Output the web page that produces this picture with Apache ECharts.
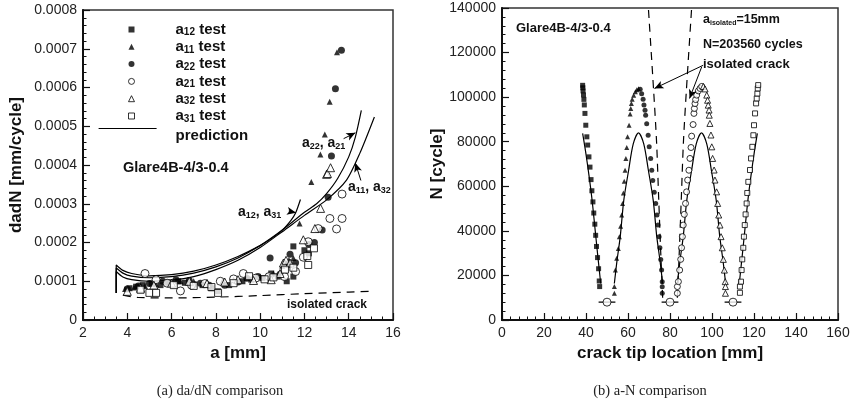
<!DOCTYPE html>
<html><head><meta charset="utf-8">
<script src="https://cdn.jsdelivr.net/npm/echarts@6.0.0/dist/echarts.min.js"></script>
<style>html,body{margin:0;padding:0;background:#fff}#c{width:853px;height:411px}</style>
</head><body><div id="c"></div>
<script>
// ================= DATA =================
// Left panel: da/dN vs a
const leftXTicks = [2, 4, 6, 8, 10, 12, 14, 16];
const leftYTicks = [0, 0.0001, 0.0002, 0.0003, 0.0004, 0.0005, 0.0006, 0.0007, 0.0008];
const legendNames = ['a12 test', 'a11 test', 'a22 test', 'a21 test', 'a32 test', 'a31 test'];
const legendSubs = ['12', '11', '22', '21', '32', '31'];

const dadN_a12 = [[4.1,0.000082],[4.4,0.000086],[4.7,0.00009],[5.1,0.000094],[5.5,0.00009],[5.9,0.000097],[6.3,0.0001],[6.6,0.000096],[7.0,0.000092],[7.4,0.00009],[7.8,0.000082],[8.1,0.000074],[8.6,0.00009],[9.2,0.0001],[9.6,0.000104],[10.1,0.000108],[10.5,0.00012],[10.8,0.000112],[11.2,0.0001],[11.5,0.000112],[11.3,0.000143],[11.5,0.00019],[12.0,0.00018],[12.2,0.000172]];
const dadN_a11 = [[3.9,0.00008],[4.3,0.000084],[4.8,0.000088],[5.3,0.000092],[5.8,0.000096],[6.4,0.0001],[7.0,0.0001],[7.6,0.000098],[8.3,0.0001],[8.8,0.000104],[9.4,0.00011],[10.0,0.000112],[10.6,0.00012],[11.0,0.00014],[11.3,0.000155],[11.5,0.00016],[11.78,0.000249],[12.31,0.000356],[12.72,0.000427],[12.92,0.000479],[13.14,0.000563],[13.47,0.000691]];
const dadN_a22 = [[4.0,0.00008],[4.5,0.000088],[5.0,0.000094],[5.6,0.0001],[6.2,0.000104],[6.8,0.000102],[7.3,0.000095],[7.7,0.00009],[8.4,0.00009],[9.0,0.000098],[9.4,0.000108],[9.9,0.000112],[10.45,0.00016],[10.9,0.000118],[11.1,0.000145],[11.35,0.00017],[11.6,0.000148],[12.2,0.000195],[12.45,0.0002],[12.8,0.000232],[13.07,0.000317],[13.22,0.000423],[13.4,0.000597],[13.67,0.000696]];
const dadN_a21 = [[4.8,0.00012],[5.3,0.000104],[5.8,0.000095],[6.4,0.000075],[6.9,0.00009],[7.5,0.000094],[8.2,0.0001],[8.8,0.000106],[9.24,0.00012],[9.8,0.000108],[10.4,0.000112],[11.1,0.000112],[11.6,0.000125],[11.95,0.000162],[12.17,0.000202],[12.62,0.000236],[13.15,0.000262],[13.45,0.000235],[13.7,0.000262],[13.7,0.000325]];
const dadN_a32 = [[4.0,0.000074],[4.6,0.000082],[5.2,0.00009],[6.0,0.000095],[6.8,0.0001],[7.6,0.000094],[8.4,0.000098],[9.0,0.000104],[9.7,0.000102],[10.5,0.000104],[10.9,0.00012],[11.05,0.000147],[11.17,0.000154],[11.35,0.000147],[11.95,0.000207],[12.47,0.000236],[12.73,0.000288],[13.0,0.000376],[13.04,0.000378],[13.18,0.000393]];
const dadN_a31 = [[4.6,0.000078],[5.0,0.00007],[5.3,0.00007],[6.1,0.00009],[7.0,0.000088],[7.8,0.000085],[8.1,0.00007],[8.8,0.000095],[9.5,0.000113],[10.2,0.000105],[10.6,0.00011],[11.12,0.00013],[11.5,0.000135],[12.13,0.000165],[12.17,0.000142],[12.43,0.000185]];

const pred_a12_a31 = [[3.5,0.00007],[3.5,0.000142],[3.8,0.000128],[4.2,0.00012],[5,0.000114],[6,0.000117],[7,0.000126],[8,0.000142],[9,0.000164],[10,0.000192],[10.5,0.00021],[11,0.000232],[11.4,0.000258],[11.6,0.000276],[11.82,0.000311]];
const pred_a22_a21 = [[3.5,0.00007],[3.5,0.000134],[3.8,0.000121],[4.2,0.000113],[5,0.000109],[6,0.000112],[7,0.000121],[8,0.000137],[9,0.00016],[10,0.000192],[11,0.000232],[12,0.000278],[12.55,0.0003],[13,0.000326],[13.5,0.000365],[14,0.000421],[14.3,0.000472],[14.57,0.000541]];
const pred_a11_a32 = [[3.5,0.00007],[3.5,0.000125],[3.8,0.000111],[4.2,0.000104],[5,0.0001],[6,0.000103],[7,0.000112],[8,0.00013],[9,0.000154],[10,0.000187],[11,0.000228],[12,0.00027],[13,0.00031],[13.9,0.000361],[14.5,0.00043],[15.16,0.000524]];
const isolated_dadN = [[3.8,0.000064],[4.5,0.000058],[6,0.000057],[8,0.000059],[10,0.000063],[12,0.000068],[14,0.000072],[15,0.000074]];

// Right panel: N vs crack tip location
const rightXTicks = [0, 20, 40, 60, 80, 100, 120, 140, 160];
const rightYTicks = [0, 20000, 40000, 60000, 80000, 100000, 120000, 140000];

const N_a12 = [[46.5,15000],[46.3,17500],[46.0,23000],[45.5,28000],[45.0,33000],[44.6,38000],[44.2,43000],[43.7,48000],[43.3,53000],[42.8,58000],[42.4,63000],[41.9,68600],[41.4,73200],[40.8,78500],[40.4,82200],[39.9,87400],[39.5,92700],[39.2,96500],[39.0,99000],[38.8,101000],[38.6,102800],[38.5,104200],[38.4,105300]];
const N_a11 = [[53.5,12000],[53.5,15000],[54.0,22400],[54.6,27700],[55.4,32100],[55.9,37400],[56.5,42100],[57.0,47100],[57.4,52300],[57.8,57000],[58.2,62300],[58.6,67200],[59.0,72500],[59.4,77400],[59.8,82200],[60.5,87400],[61.0,92400],[61.3,94900],[61.6,97100],[62.0,99100],[62.7,100900],[63.5,102400],[64.2,103300],[65.0,103800]];
const N_a22 = [[65.8,103500],[66.5,101500],[67.2,99000],[67.6,96500],[68.1,94100],[68.4,91900],[68.9,88100],[69.6,82900],[70.1,77700],[70.8,72500],[71.3,67200],[71.8,62600],[72.5,57300],[73.2,52300],[73.8,47100],[74.3,42600],[74.8,37400],[75.2,32400],[75.6,27200],[76.0,22400],[76.3,17200],[76.3,14900],[76.3,12000]];
const N_a21 = [[83.5,12000],[83.5,15000],[84.0,17200],[84.6,22400],[85.1,27200],[85.5,32400],[85.9,37400],[86.3,42600],[86.8,47400],[87.4,52300],[87.9,57500],[88.4,62800],[89.0,67200],[89.5,72500],[90.0,77400],[90.3,82500],[91.0,87700],[91.4,92700],[91.6,94900],[91.9,97100],[92.2,98900],[92.7,100900],[93.5,102800],[94.3,103900],[95.1,104800]];
const N_a32 = [[95.9,104800],[96.7,103700],[97.5,100900],[97.9,98600],[98.2,96400],[98.6,94200],[98.7,91900],[99.0,88200],[99.5,83000],[99.9,77700],[100.3,72500],[101.0,67300],[101.4,62800],[102.2,57500],[102.7,52300],[103.2,47100],[103.8,42600],[104.3,37400],[104.9,32400],[105.4,27200],[105.9,22400],[106.3,17200],[106.4,15000],[106.4,12000]];
const N_a31 = [[113.3,12200],[113.3,15000],[113.8,17200],[114.1,22400],[114.4,27200],[114.9,32400],[115.2,37400],[115.6,42600],[116.0,47400],[116.5,52300],[116.8,57000],[117.3,62000],[118.1,67300],[118.6,72500],[119.2,77700],[119.7,82900],[120.0,87400],[120.5,92700],[121.0,97200],[121.3,99400],[121.6,101600],[121.8,103900],[122.0,105400]];

const predN_left = [[47.0,16400],[45.7,28000],[44.4,40000],[42.9,53800],[41.4,65000],[39.9,75000],[38.4,83700]];
const predN_arch1 = [[53.5,16400],[54.8,26900],[56.3,37400],[58.0,53800],[60.3,67200],[62.5,79000],[65.0,84000],[67.5,79000],[69.7,67200],[72.0,53800],[73.7,37400],[75.2,26900],[76.5,16400]];
const predN_arch2 = [[83.5,16400],[84.8,26900],[86.3,37400],[88.0,53800],[90.3,67200],[92.5,79000],[95.0,84000],[97.5,79000],[99.7,67200],[102.0,53800],[103.7,37400],[105.2,26900],[106.5,16400]];
const predN_right = [[113.0,16400],[114.3,28000],[115.6,40000],[117.1,53800],[118.6,65000],[120.1,75000],[121.6,83700]];
const isoN_left = [[76.5,10000],[75.6,30000],[74.6,55000],[73.6,80000],[72.2,103000],[69.7,140000]];
const isoN_right = [[83.5,10000],[84.4,30000],[85.4,55000],[86.4,80000],[87.8,103000],[90.3,140000]];
const holes = [[50,8000],[80,8000],[110,8000]];
const holeBars = [[[46,8000],[54,8000]],[[76,8000],[84,8000]],[[106,8000],[114,8000]]];

// annotation arrows (data coordinates)
const leftArrows = [[[13.77,0.000468],[14.3,0.000483]], [[14.55,0.00036],[14.3,0.000405]], [[11.29,0.000281],[11.62,0.000277]]];
const rightArrows = [[[95.8,114300],[72.6,103900]], [[95.1,113600],[89.3,99400]]];

// ================= CHART =================
const FONT = 'Liberation Sans, Arial, sans-serif';
const chart = echarts.init(document.getElementById('c'), null, {renderer: 'canvas'});

function axis(gridIndex, ticks, minorSplit, name, nameGap, isY, fmt) {
  return {
    type: 'value', gridIndex: gridIndex,
    min: ticks[0], max: ticks[ticks.length - 1], interval: ticks[1] - ticks[0],
    name: name, nameLocation: 'middle', nameGap: nameGap,
    nameTextStyle: {fontFamily: FONT, fontWeight: 'bold', fontSize: 17, color: '#111'},
    axisLine: {onZero: false, lineStyle: {color: '#111', width: 2}},
    axisTick: {inside: true, length: 7, lineStyle: {color: '#111', width: 1.2}},
    minorTick: {show: true, splitNumber: minorSplit, length: 3.5, lineStyle: {color: '#111', width: 1}},
    splitLine: {show: false}, minorSplitLine: {show: false},
    axisLabel: {fontFamily: FONT, fontSize: 14, color: '#222', margin: 6, formatter: fmt, showMinLabel: true, showMaxLabel: true}
  };
}

const subRich = {
  m: {fontFamily: FONT, fontWeight: 'bold', fontSize: 14, lineHeight: 16, color: '#111', fill: '#111'},
  s: {fontFamily: FONT, fontWeight: 'bold', fontSize: 9, lineHeight: 8, verticalAlign: 'bottom', color: '#111', fill: '#111'}
};

function scatter(name, data, xi, symbol, size, open) {
  return {
    type: 'scatter', name: name, xAxisIndex: xi, yAxisIndex: xi, data: data,
    symbol: symbol, symbolSize: size, z: 3,
    itemStyle: open ? {color: '#fff', borderColor: '#000', borderWidth: 1} : {color: '#000'}
  };
}
function line(name, data, xi, dashed, smooth) {
  return {
    type: 'line', name: name, xAxisIndex: xi, yAxisIndex: xi, data: data,
    symbol: 'none', smooth: smooth, z: 2,
    lineStyle: {color: '#000', width: 1.2, type: dashed ? [8, 6] : 'solid'}
  };
}
function arrows(list) {
  return {
    silent: true, symbol: ['none', 'arrow'], symbolSize: [6, 9],
    label: {show: false},
    lineStyle: {color: '#000', width: 1, type: 'solid'},
    data: list.map(a => [{coord: a[0]}, {coord: a[1]}])
  };
}

const leftSymbols = [['rect', 6, false], ['triangle', 6, false], ['circle', 7, false], ['circle', 8, true], ['triangle', 8, true], ['rect', 7, true]];
const leftData = [dadN_a12, dadN_a11, dadN_a22, dadN_a21, dadN_a32, dadN_a31];
const rightSymbols = [['rect', 5, false], ['triangle', 5, false], ['circle', 5, false], ['circle', 6, true], ['triangle', 6, true], ['rect', 5, true]];
const rightData = [N_a12, N_a11, N_a22, N_a21, N_a32, N_a31];

const series = [];
series.push(line('prediction', pred_a12_a31, 0, false, 0.25));
series.push(line('prediction', pred_a22_a21, 0, false, 0.25));
series.push(line('prediction', pred_a11_a32, 0, false, 0.25));
const iso = line('isolated', isolated_dadN, 0, true, 0.3);
iso.markLine = arrows(leftArrows);
series.push(iso);
legendNames.forEach((n, i) => series.push(scatter(n, leftData[i], 0, leftSymbols[i][0], leftSymbols[i][1], leftSymbols[i][2])));

[predN_left, predN_arch1, predN_arch2, predN_right].forEach(d => series.push(line('r_pred', d, 1, false, 0.3)));
const isoR = line('r_iso', isoN_left, 1, true, 0.3);
isoR.markLine = arrows(rightArrows);
series.push(isoR);
series.push(line('r_iso', isoN_right, 1, true, 0.3));
holeBars.forEach(b => { const s = line('r_hole', b, 1, false, false); s.lineStyle.width = 1.3; series.push(s); });
series.push(scatter('r_holes', holes, 1, 'circle', 8, true));
rightData.forEach((d, i) => series.push(scatter('r_' + legendNames[i], d, 1, rightSymbols[i][0], rightSymbols[i][1], rightSymbols[i][2])));

const legendRich = {
  f: {fontFamily: FONT, fontWeight: 'bold', fontSize: 15, lineHeight: 16, color: '#111', padding: [0, 0, 0, 36]},
  m: {fontFamily: FONT, fontWeight: 'bold', fontSize: 15, lineHeight: 16, color: '#111'},
  s: {fontFamily: FONT, fontWeight: 'bold', fontSize: 10, lineHeight: 8, verticalAlign: 'bottom', color: '#111'},
  p: {fontFamily: FONT, fontWeight: 'bold', fontSize: 15, lineHeight: 16, color: '#111', padding: [14, 0, 0, 14]}
};

const option = {
  animation: false,
  backgroundColor: '#fff',
  grid: [
    {left: 83, top: 10, width: 310, height: 310, show: true, borderColor: '#333', borderWidth: 1.5, backgroundColor: 'transparent'},
    {left: 502, top: 8, width: 336, height: 312, show: true, borderColor: '#333', borderWidth: 1.5, backgroundColor: 'transparent'}
  ],
  xAxis: [
    axis(0, leftXTicks, 4, 'a [mm]', 20, false),
    axis(1, rightXTicks, 5, 'crack tip location [mm]', 21, false)
  ],
  yAxis: [
    axis(0, leftYTicks, 5, 'dadN [mm/cycle]', 58, true, v => v === 0 ? '0' : v.toFixed(4)),
    axis(1, rightYTicks, 5, 'N [cycle]', 49, true, v => String(Math.round(v)))
  ],
  legend: [
    {
      data: legendNames, orient: 'vertical', left: 123, top: 17, itemWidth: 6, itemHeight: 6, itemGap: 1.8,
      selectedMode: false,
      itemStyle: {borderWidth: 1},
      formatter: n => { const i = legendNames.indexOf(n); return '{f|a}{s|' + legendSubs[i] + '}{m| test}'; },
      textStyle: {rich: legendRich}
    },
    {
      data: [{name: 'prediction', itemStyle: {opacity: 0}}], left: 93, top: 109, itemWidth: 58, itemHeight: 2,
      selectedMode: false, lineStyle: {width: 1.2, color: '#000'},
      formatter: () => '{p|prediction}',
      textStyle: {rich: legendRich}
    }
  ],
  series: series,
  graphic: [
    {type: 'text', x: 123, y: 168, style: {text: 'Glare4B-4/3-0.4', font: 'bold 14.5px ' + FONT, fill: '#111', verticalAlign: 'middle'}},
    {type: 'text', x: 302, y: 143, style: {text: '{m|a}{s|22}{m|, a}{s|21}', rich: subRich, verticalAlign: 'middle'}},
    {type: 'text', x: 348, y: 187, style: {text: '{m|a}{s|11}{m|, a}{s|32}', rich: subRich, verticalAlign: 'middle'}},
    {type: 'text', x: 238, y: 212, style: {text: '{m|a}{s|12}{m|, a}{s|31}', rich: subRich, verticalAlign: 'middle'}},
    {type: 'text', x: 287, y: 305, style: {text: 'isolated crack', font: 'bold 12px ' + FONT, fill: '#111', verticalAlign: 'middle'}},
    {type: 'text', x: 516, y: 28, style: {text: 'Glare4B-4/3-0.4', font: 'bold 13px ' + FONT, fill: '#111', verticalAlign: 'middle'}},
    {type: 'text', x: 703, y: 20, style: {text: '{m|a}{s|isolated}{m|=15mm}', verticalAlign: 'middle',
      rich: {m: {fontFamily: FONT, fontWeight: 'bold', fontSize: 12.5, lineHeight: 14, fill: '#111'},
             s: {fontFamily: FONT, fontWeight: 'bold', fontSize: 7, lineHeight: 7, verticalAlign: 'bottom', fill: '#111'}}}},
    {type: 'text', x: 703, y: 45, style: {text: 'N=203560 cycles', font: 'bold 12.5px ' + FONT, fill: '#111', verticalAlign: 'middle'}},
    {type: 'text', x: 703, y: 64, style: {text: 'isolated crack', font: 'bold 13px ' + FONT, fill: '#111', verticalAlign: 'middle'}},
    {type: 'text', x: 220, y: 391, style: {text: '(a) da/dN comparison', font: '14.5px Liberation Serif, serif', fill: '#222', align: 'center', verticalAlign: 'middle'}},
    {type: 'text', x: 650, y: 391, style: {text: '(b) a-N comparison', font: '14.5px Liberation Serif, serif', fill: '#222', align: 'center', verticalAlign: 'middle'}}
  ]
};
chart.setOption(option);
</script>
</body></html>
